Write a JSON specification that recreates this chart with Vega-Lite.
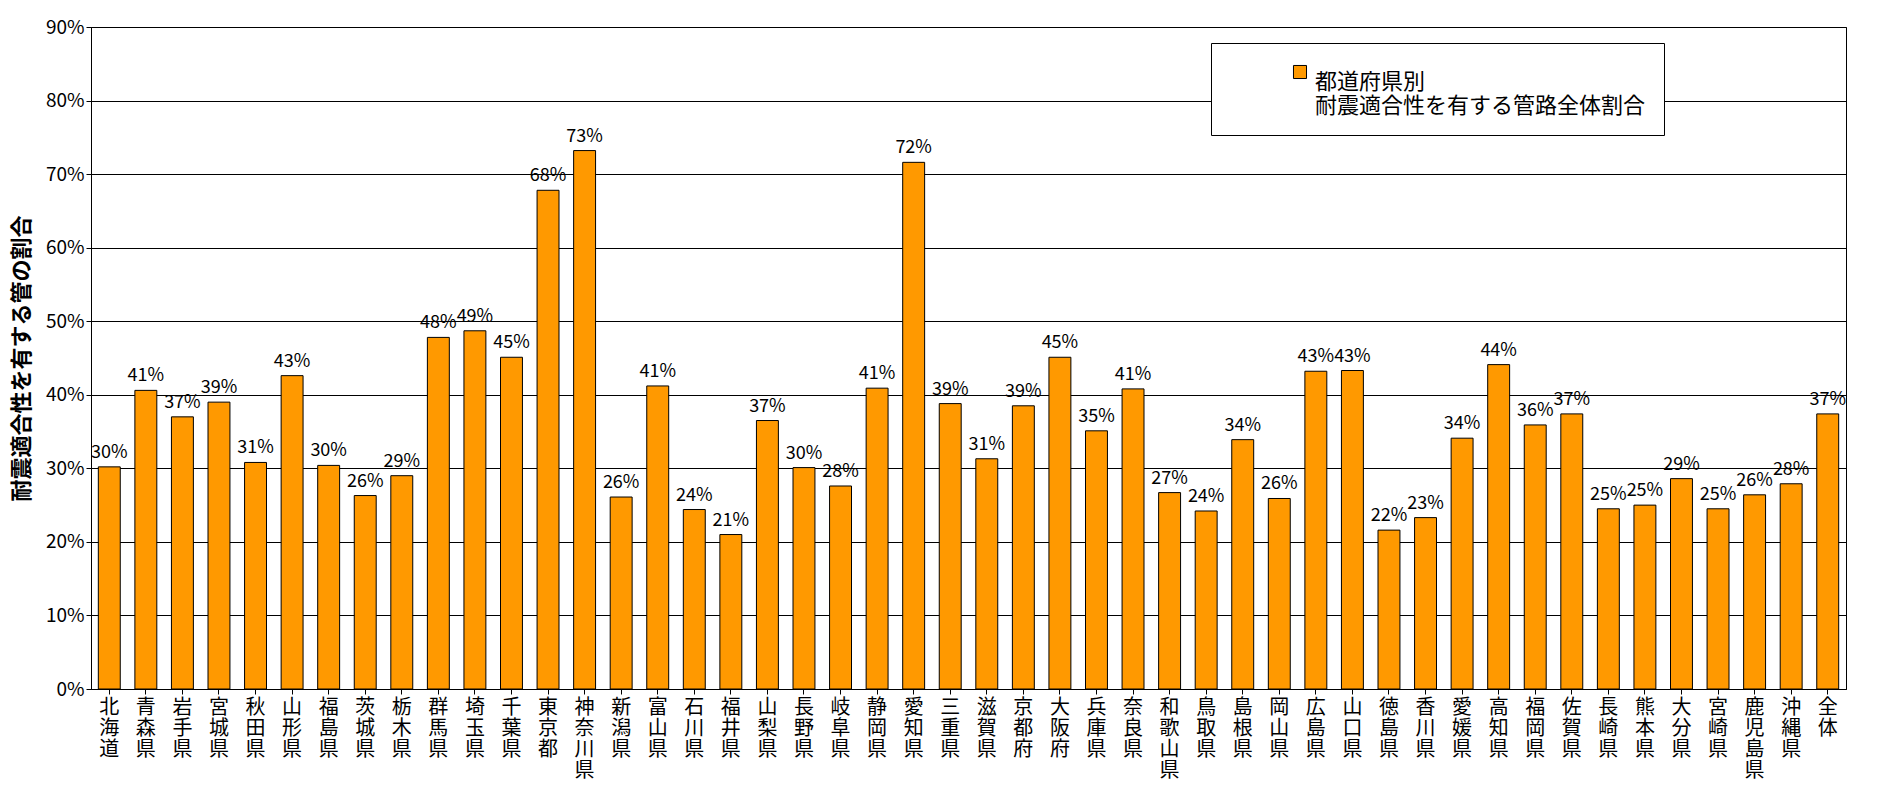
{
  "$schema": "https://vega.github.io/schema/vega-lite/v6.json",
  "width": 1755,
  "height": 662,
  "padding": {"left": 10, "top": 18, "right": 2, "bottom": 0},
  "background": "white",
  "data": {
    "values": [
      {"pref": "北海道", "v": 0.302}, {"pref": "青森県", "v": 0.406}, {"pref": "岩手県", "v": 0.370},
      {"pref": "宮城県", "v": 0.390}, {"pref": "秋田県", "v": 0.308}, {"pref": "山形県", "v": 0.426},
      {"pref": "福島県", "v": 0.304}, {"pref": "茨城県", "v": 0.263}, {"pref": "栃木県", "v": 0.290},
      {"pref": "群馬県", "v": 0.478}, {"pref": "埼玉県", "v": 0.487}, {"pref": "千葉県", "v": 0.451},
      {"pref": "東京都", "v": 0.678}, {"pref": "神奈川県", "v": 0.732}, {"pref": "新潟県", "v": 0.261},
      {"pref": "富山県", "v": 0.412}, {"pref": "石川県", "v": 0.244}, {"pref": "福井県", "v": 0.210},
      {"pref": "山梨県", "v": 0.365}, {"pref": "長野県", "v": 0.301}, {"pref": "岐阜県", "v": 0.276},
      {"pref": "静岡県", "v": 0.409}, {"pref": "愛知県", "v": 0.716}, {"pref": "三重県", "v": 0.388},
      {"pref": "滋賀県", "v": 0.313}, {"pref": "京都府", "v": 0.385}, {"pref": "大阪府", "v": 0.451},
      {"pref": "兵庫県", "v": 0.351}, {"pref": "奈良県", "v": 0.408}, {"pref": "和歌山県", "v": 0.267},
      {"pref": "鳥取県", "v": 0.242}, {"pref": "島根県", "v": 0.339}, {"pref": "岡山県", "v": 0.259},
      {"pref": "広島県", "v": 0.432}, {"pref": "山口県", "v": 0.433}, {"pref": "徳島県", "v": 0.216},
      {"pref": "香川県", "v": 0.233}, {"pref": "愛媛県", "v": 0.341}, {"pref": "高知県", "v": 0.441},
      {"pref": "福岡県", "v": 0.359}, {"pref": "佐賀県", "v": 0.374}, {"pref": "長崎県", "v": 0.245},
      {"pref": "熊本県", "v": 0.250}, {"pref": "大分県", "v": 0.286}, {"pref": "宮崎県", "v": 0.245},
      {"pref": "鹿児島県", "v": 0.264}, {"pref": "沖縄県", "v": 0.279}, {"pref": "全体", "v": 0.374}
    ]
  },
  "config": {
    "font": "Noto Sans CJK JP",
    "view": {"stroke": "black", "strokeWidth": 1}
  },
  "encoding": {
    "x": {
      "field": "pref", "type": "nominal", "sort": null, "title": null,
      "scale": {"paddingInner": 0.4, "paddingOuter": 0.2},
      "axis": {
        "labelAngle": 0, "labelExpr": "split(datum.label, '')", "labelFontSize": 20,
        "labelLineHeight": 21, "labelColor": "black", "labelBaseline": "top",
        "domainColor": "black", "tickColor": "black", "labelPadding": 3
      }
    },
    "y": {
      "field": "v", "type": "quantitative",
      "title": "耐震適合性を有する管の割合",
      "scale": {"domain": [0, 0.9]},
      "axis": {
        "values": [0, 0.1, 0.2, 0.3, 0.4, 0.5, 0.6, 0.7, 0.8, 0.9],
        "format": ".0%", "labelFontSize": 19, "labelColor": "black",
        "titleFontSize": 22, "titleFontWeight": "bold", "titleColor": "black",
        "gridColor": "black", "gridWidth": 1, "domainColor": "black", "tickColor": "black",
        "titlePadding": 12
      }
    }
  },
  "layer": [
    {
      "mark": {"type": "bar", "stroke": "black", "strokeWidth": 1},
      "encoding": {
        "color": {
          "datum": "都道府県別",
          "scale": {"range": ["#FF9900"]},
          "legend": {
            "title": null, "orient": "none", "legendX": 1120, "legendY": 16,
            "labelExpr": "['都道府県別', ' 耐震適合性を有する管路全体割合']",
            "labelFontSize": 22, "labelColor": "black", "labelLimit": 600,
            "labelLineHeight": 38, "labelBaseline": "top",
            "symbolType": "square", "symbolSize": 170, "symbolStrokeColor": "black",
            "symbolStrokeWidth": 1, "symbolOffset": 60,
            "strokeColor": "black", "fillColor": "white", "padding": 18
          }
        }
      }
    },
    {
      "mark": {"type": "text", "dy": -14, "fontSize": 18, "color": "black"},
      "encoding": {"text": {"field": "v", "type": "quantitative", "format": ".0%"}}
    }
  ]
}
